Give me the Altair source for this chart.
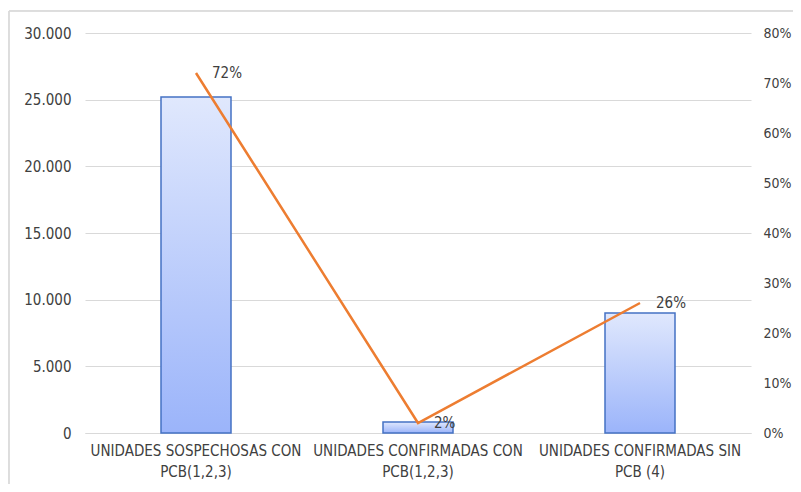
import altair as alt
import pandas as pd

categories = [
    "UNIDADES SOSPECHOSAS CON\nPCB(1,2,3)",
    "UNIDADES CONFIRMADAS CON\nPCB(1,2,3)",
    "UNIDADES CONFIRMADAS SIN\nPCB (4)",
]
units = [25200, 830, 9000]
shares = [0.72, 0.02, 0.26]

df = pd.DataFrame({"cat": categories, "units": units, "share": shares})

FONT = "Liberation Sans Narrow, DejaVu Sans Condensed, sans-serif"
TXT = "#404040"
GRID = "#d9d9d9"

xenc = alt.X(
    "cat:N",
    sort=categories,
    scale=alt.Scale(paddingInner=0, paddingOuter=0),
    axis=alt.Axis(
        title=None, labelAngle=0, ticks=False, domain=True, domainColor=GRID,
        labelExpr="split(datum.label, '\\n')", labelPadding=10, labelLimit=400,
        labelFontSize=15, labelColor=TXT, labelFont=FONT, labelLineHeight=21,
    ),
)

grad = alt.Gradient(
    gradient="linear",
    stops=[alt.GradientStop(color="#e0e8fd", offset=0),
           alt.GradientStop(color="#9bb4fa", offset=1)],
    x1=0, x2=0, y1=0, y2=1,
)

bars = alt.Chart(df).mark_bar(color=grad, stroke="#4472c4", strokeWidth=1.5, size=70).encode(
    x=xenc,
    y=alt.Y(
        "units:Q",
        scale=alt.Scale(domain=[0, 30000]),
        axis=alt.Axis(
            title=None, values=[0, 5000, 10000, 15000, 20000, 25000, 30000],
            labelExpr="replace(format(datum.value, ','), ',', '.')",
            ticks=False, domain=False, grid=True, gridColor=GRID,
            labelFontSize=15, labelColor=TXT, labelFont=FONT, labelPadding=14,
        ),
    ),
)

yr = alt.Y(
    "share:Q",
    scale=alt.Scale(domain=[0, 0.8]),
    axis=alt.Axis(
        title=None, orient="right", format=".0%",
        values=[0, 0.1, 0.2, 0.3, 0.4, 0.5, 0.6, 0.7, 0.8],
        ticks=False, domain=False, grid=False,
        labelFontSize=14, labelColor=TXT, labelFont=FONT, labelPadding=12,
    ),
)

line = alt.Chart(df).mark_line(color="#ed7d31", strokeWidth=2.5).encode(x=xenc, y=yr)
labels = alt.Chart(df).mark_text(
    align="left", baseline="middle", dx=16, dy=0, fontSize=15, color=TXT, font=FONT
).encode(x=xenc, y=yr, text=alt.Text("share:Q", format=".0%"))

right = alt.layer(line, labels)

frame_top = alt.Chart(df).mark_rule(color=GRID, strokeWidth=1).encode(
    x=alt.value(-76), x2=alt.value(708), y=alt.value(-22))
frame_left = alt.Chart(df).mark_rule(color=GRID, strokeWidth=1).encode(
    x=alt.value(-76), y=alt.value(-22), y2=alt.value(451))

chart = alt.layer(frame_top, frame_left, bars, right).resolve_scale(y="independent").properties(
    width=666, height=400,
    padding={"left": 77, "top": 25, "right": 42, "bottom": 51},
    autosize=alt.AutoSizeParams(type="none"),
).configure_view(stroke=None)

chart.save("out.html", embed_options={"renderer": "svg", "actions": False})
